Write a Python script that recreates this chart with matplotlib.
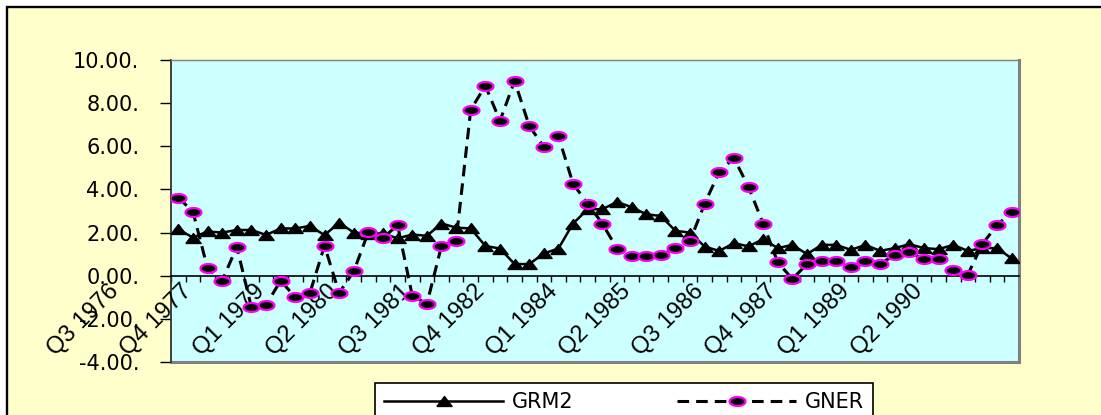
import numpy as np
import matplotlib
matplotlib.use("Agg")
import matplotlib.pyplot as plt
from matplotlib.patches import Rectangle
from matplotlib.lines import Line2D

# quarterly series, Q3 1976 .. Q4 1990
grm2 = [2.15, 1.77, 2.05, 2.00, 2.12, 2.12, 1.89, 2.19, 2.19, 2.31,
        1.88, 2.46, 2.00, 1.95, 1.96, 1.73, 1.91, 1.85, 2.42, 2.23,
        2.19, 1.38, 1.26, 0.54, 0.54, 1.03, 1.26, 2.42, 3.08, 3.08,
        3.42, 3.18, 2.85, 2.77, 2.08, 2.00, 1.35, 1.15, 1.51, 1.36,
        1.69, 1.28, 1.43, 1.00, 1.43, 1.43, 1.20, 1.43, 1.15, 1.28,
        1.46, 1.28, 1.23, 1.43, 1.15, 1.28, 1.28, 0.80]
gner = [3.62, 2.97, 0.34, -0.23, 1.34, -1.46, -1.35, -0.23, -1.00, -0.80,
        1.39, -0.80, 0.20, 2.03, 1.76, 2.34, -0.92, -1.31, 1.38, 1.62,
        7.69, 8.81, 7.18, 9.03, 6.95, 5.97, 6.46, 4.26, 3.34, 2.42,
        1.26, 0.92, 0.92, 0.97, 1.28, 1.62, 3.34, 4.82, 5.46, 4.11,
        2.42, 0.62, -0.15, 0.54, 0.69, 0.69, 0.42, 0.69, 0.54, 0.97,
        1.08, 0.77, 0.77, 0.28, 0.05, 1.48, 2.34, 2.97]

tick_labels = ["Q3 1976", "Q4 1977", "Q1 1979", "Q2 1980", "Q3 1981", "Q4 1982",
               "Q1 1984", "Q2 1985", "Q3 1986", "Q4 1987", "Q1 1989", "Q2 1990"]
tick_step = 5

y_ticks = [-4, -2, 0, 2, 4, 6, 8, 10]
y_labels = ["-4.00.", "-2.00.", "0.00.", "2.00.", "4.00.", "6.00.", "8.00.", "10.00."]

W, H = 1101, 415
fig = plt.figure(figsize=(W / 100, H / 100), dpi=100)
fig.patch.set_facecolor("white")

# yellow chart area with black frame (top / left visible)
fig.patches.append(Rectangle((7 / W, -0.2), 1.2, 1 - 7 / H + 0.2, transform=fig.transFigure,
                             facecolor="#FFFFCC", edgecolor="black", lw=1.7, zorder=-5))

ax = fig.add_axes([171 / W, 1 - 362 / H, (1019 - 171) / W, (362 - 60) / H])
ax.set_zorder(2)
ax.set_facecolor("#CCFFFF")

x = np.arange(len(grm2))

# custom marker shapes (wide triangle, flat ellipse)
tri = [(-1, -0.65), (1, -0.65), (0, 0.65), (-1, -0.65)]
t = np.linspace(0, 2 * np.pi, 41)
ell = np.column_stack([np.cos(t), 0.56 * np.sin(t)])

ax.plot(x, grm2, color="black", lw=1.8, marker=tri, markersize=11,
        markerfacecolor="black", markeredgecolor="black", label="GRM2", zorder=3)
ax.plot(x, gner, color="black", lw=2.2, linestyle=(0, (3.8, 2.3)), marker=ell,
        markersize=11.5, markerfacecolor="black", markeredgecolor="#FF00FF",
        markeredgewidth=1.6, label="GNER", zorder=4)

ax.set_xlim(-0.5, len(grm2) - 0.5)
ax.set_ylim(-4, 10)

# spines: y axis black, x axis crossing at zero, grey plot-area border
ax.spines["left"].set_color("#303030")
ax.spines["left"].set_linewidth(1.3)
ax.spines["bottom"].set_position(("data", 0))
ax.spines["bottom"].set_color("black")
ax.spines["bottom"].set_linewidth(1.2)
ax.spines["top"].set_color("#808080")
ax.spines["top"].set_linewidth(1.0)
ax.spines["right"].set_color("#808080")
ax.spines["right"].set_linewidth(2.2)
ax.add_line(Line2D([0, 1], [0, 0], transform=ax.transAxes, color="#808080",
                   lw=2.2, clip_on=False))

ax.set_xticks(np.arange(-0.5, len(grm2), 1))
ax.tick_params(axis="x", direction="out", length=4.3, width=1, labelbottom=False)

ax.set_yticks(y_ticks)
ax.set_yticklabels(y_labels)
ax.tick_params(axis="y", direction="out", length=7.9, width=1, pad=15, labelsize=15)

# rotated category labels (drawn offset like the original Excel chart)
for k, lab in enumerate(tick_labels):
    i = k * tick_step
    ax.text(i - 6.5, -2.07, lab, rotation=45, rotation_mode="anchor",
            ha="center", va="center", fontsize=17, family="Liberation Sans",
            clip_on=False)

leg = fig.legend(loc="upper left", bbox_to_anchor=(375 / W, 1 - 383 / H, 498 / W, 0),
                 mode="expand", ncol=2, fontsize=15, frameon=True, fancybox=False,
                 edgecolor="black", framealpha=1, handlelength=5.7, handletextpad=0.4,
                 borderpad=0.45, borderaxespad=0, columnspacing=1.0)
leg.get_frame().set_linewidth(1.2)

fig.savefig("out.png", dpi=100)
